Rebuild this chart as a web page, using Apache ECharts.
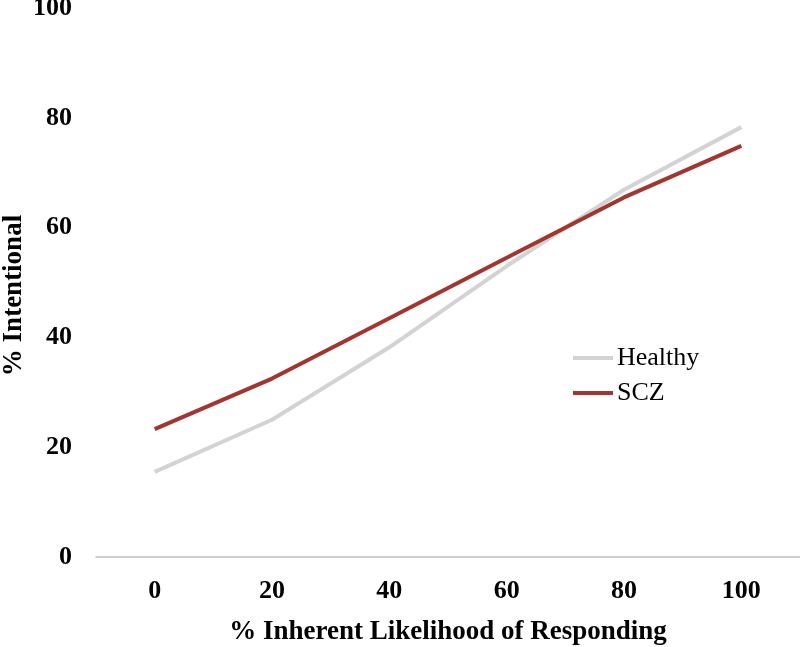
<!DOCTYPE html>
<html>
<head>
<meta charset="utf-8">
<script src="https://cdn.jsdelivr.net/npm/echarts@6/dist/echarts.min.js"></script>
<style>html,body{margin:0;padding:0;background:#fff}#c{width:800px;height:647px}</style>
</head>
<body>
<div id="c"></div>
<script>
const categories = ['0', '20', '40', '60', '80', '100'];
const healthy = [15.5, 25.0, 38.2, 53.0, 66.9, 78.3];
const scz = [23.3, 32.5, 43.5, 54.5, 65.5, 74.9];
const yTicks = [0, 20, 40, 60, 80, 100];

const font = '"Liberation Serif", "Times New Roman", serif';
const chart = echarts.init(document.getElementById('c'));
chart.setOption({
  animation: false,
  backgroundColor: '#fff',
  grid: { left: 96, right: 0, top: 8, bottom: 90, containLabel: false, outerBoundsMode: 'none' },
  legend: {
    orient: 'vertical',
    left: 573, top: 345,
    padding: 0,
    itemWidth: 40, itemHeight: 4, itemGap: 9,
    icon: 'rect',
    textStyle: { fontFamily: font, fontSize: 26, color: '#000', padding: [0, 0, 0, -1] },
    data: ['Healthy', 'SCZ']
  },
  xAxis: {
    type: 'category',
    data: categories,
    boundaryGap: true,
    name: '% Inherent Likelihood of Responding',
    nameLocation: 'middle',
    nameGap: 62,
    nameMoveOverlap: false,
    nameTextStyle: { fontFamily: font, fontSize: 27, fontWeight: 'bold', color: '#000' },
    axisLine: { lineStyle: { color: '#bfbfbf', width: 1.5 } },
    axisTick: { show: false },
    axisLabel: { fontFamily: font, fontSize: 26, fontWeight: 'bold', color: '#000', margin: 21 }
  },
  yAxis: {
    type: 'value',
    min: yTicks[0], max: yTicks[yTicks.length - 1], interval: 20,
    name: '% Intentional',
    nameLocation: 'middle',
    nameGap: 68,
    nameMoveOverlap: false,
    nameTextStyle: { fontFamily: font, fontSize: 27, fontWeight: 'bold', color: '#000', padding: [0, 26, 0, 0] },
    axisLine: { show: false },
    axisTick: { show: false },
    splitLine: { show: false },
    axisLabel: { fontFamily: font, fontSize: 26, fontWeight: 'bold', color: '#000', margin: 24 }
  },
  series: [
    { name: 'Healthy', type: 'line', data: healthy, symbol: 'none',
      lineStyle: { color: '#d3d3d3', width: 4 }, itemStyle: { color: '#d3d3d3' } },
    { name: 'SCZ', type: 'line', data: scz, symbol: 'none',
      lineStyle: { color: '#a33530', width: 4 }, itemStyle: { color: '#a33530' } }
  ]
});
</script>
</body>
</html>
